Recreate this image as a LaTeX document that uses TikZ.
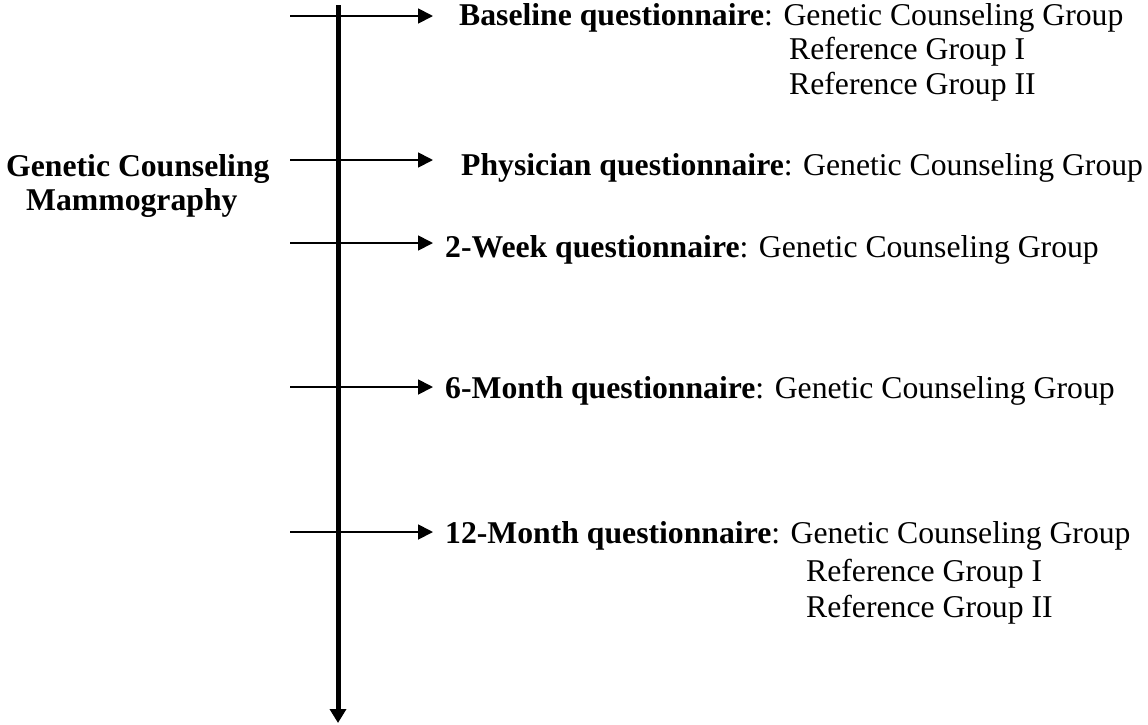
\documentclass[tikz,border=0pt]{standalone}
\usepackage{fontspec}
\setmainfont{Liberation Serif}
\usetikzlibrary{arrows.meta}
\begin{document}
\begin{tikzpicture}[x=1pt,y=-1pt,
  txt/.style={anchor=base west,inner sep=0pt,font=\fontsize{31.7}{36}\selectfont},
  hline/.style={line width=1.8pt,-{Triangle[length=15pt,width=15pt]}},
  vline/.style={line width=5pt,-{Triangle[length=14pt,width=16pt]}}]
\useasboundingbox (0,0) rectangle (1148,724);
% main time axis
\coordinate (vtop) at (338,5);
\coordinate (vbot) at (338,723);
\draw[vline] (vtop) -- (vbot);
% left label
\node[txt] (gc1) at (6,176) {\textbf{Genetic Counseling}};
\node[txt] (gc2) at (26,210) {\textbf{Mammography}};
% arrows
\foreach \n/\y in {a/16,b/160,c/243,d/387,e/532}{
  \coordinate (\n s) at (290,\y);
  \coordinate (\n e) at (433,\y);
  \draw[hline] (\n s) -- (\n e);
}
% texts
\node[txt] (t1) at (459,25) {\textbf{Baseline questionnaire}: Genetic Counseling Group};
\node[txt] (t1b) at (789,59) {Reference Group I};
\node[txt] (t1c) at (789,94) {Reference Group II};
\node[txt] (t2) at (461,175) {\textbf{Physician questionnaire}: Genetic Counseling Group};
\node[txt] (t3) at (445,257) {\textbf{2-Week questionnaire}: Genetic Counseling Group};
\node[txt] (t4) at (445,398) {\textbf{6-Month questionnaire}: Genetic Counseling Group};
\node[txt] (t5) at (445,543) {\textbf{12-Month questionnaire}: Genetic Counseling Group};
\node[txt] (t5b) at (806,581) {Reference Group I};
\node[txt] (t5c) at (806,617) {Reference Group II};
\end{tikzpicture}
\end{document}
